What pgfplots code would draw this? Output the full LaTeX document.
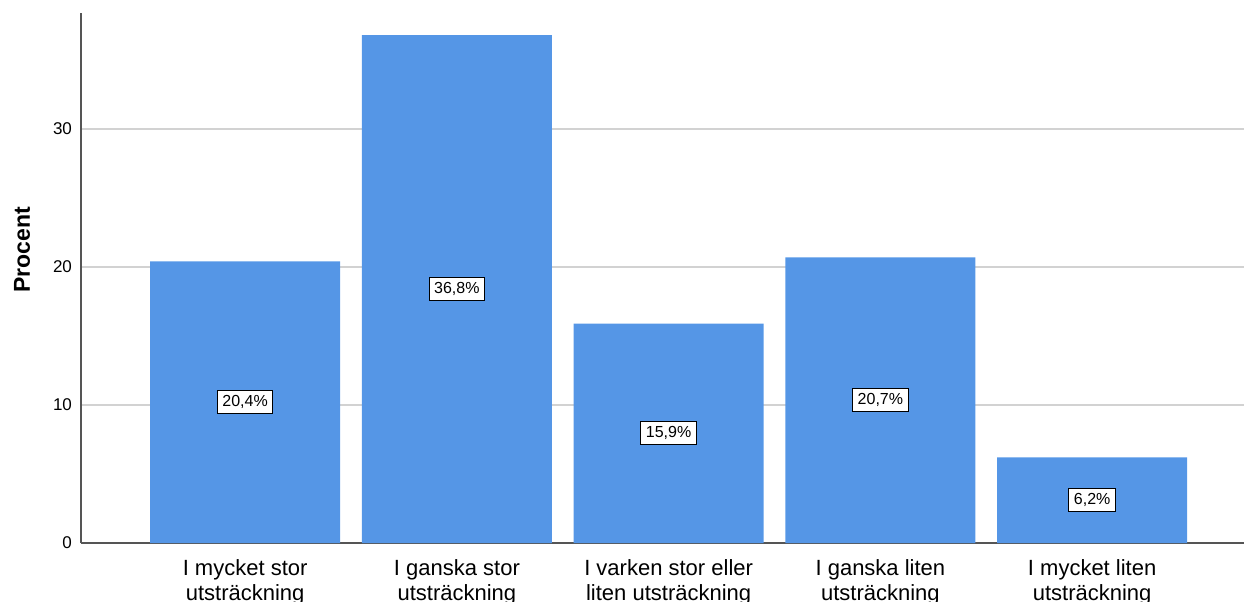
\documentclass[border=0pt]{standalone}
\usepackage{pgfplots}
\pgfplotsset{compat=1.18}
\usepackage{pgfplotstable}
\usepackage{fontspec}
\setmainfont{Liberation Sans}
\definecolor{barblue}{HTML}{5596E6}
\definecolor{gridgray}{HTML}{D2D2D2}
\definecolor{axgray}{HTML}{555555}

\pgfplotstableread{
x   val   half
0   20.4  10.2
1   36.8  18.4
2   15.9  7.95
3   20.7  10.35
4   6.2   3.1
}\datatable

\begin{document}
\begin{tikzpicture}
\begin{axis}[
  name=ax,
  at={(0,0)}, anchor=south west,
  scale only axis,
  width=581.5pt, height=265pt,
  xmin=-0.775, xmax=4.717,
  ymin=0, ymax=38.4,
  axis x line=bottom, axis y line=left,
  axis line style={-, draw=axgray, line width=0.8pt},
  ytick={0,10,20,30},
  ymajorgrids,
  grid style={draw=gridgray, line width=0.8pt},
  xtick={0,1,2,3,4},
  xticklabels={{I mycket stor\\utsträckning},{I ganska stor\\utsträckning},{I varken stor eller\\liten utsträckning},{I ganska liten\\utsträckning},{I mycket liten\\utsträckning}},
  xticklabel style={align=center, font=\fontsize{11}{12.5}\selectfont, yshift=-4.5pt},
  yticklabel style={font=\fontsize{8.5}{10}\selectfont, xshift=-1pt},
  /pgf/number format/assume math mode=true,
  major tick length=0pt,
  ylabel={Procent},
  ylabel style={at={(axis description cs:-0.0507,0.553)}, anchor=center, font=\fontsize{11.5}{13}\selectfont\bfseries},
  clip=false,
]
\addplot[ybar, bar width=0.897, fill=barblue, draw=none] table[x=x, y=val] {\datatable};
\addplot[draw=none, mark=none,
  point meta=explicit,
  nodes near coords={\pgfmathprintnumber[fixed,fixed zerofill,precision=1,use comma]{\pgfplotspointmeta}\%},
  every node near coord/.style={anchor=center, fill=white, draw=black, line width=0.5pt, inner xsep=2.5pt, inner ysep=2.5pt, font=\fontsize{8}{9}\selectfont, text=black}
] table[x=x, y=half, meta=val] {\datatable};
\end{axis}
\pgfresetboundingbox
\useasboundingbox (-40.5pt,-29pt) rectangle (581.5pt,271.5pt);
\end{tikzpicture}
\end{document}
